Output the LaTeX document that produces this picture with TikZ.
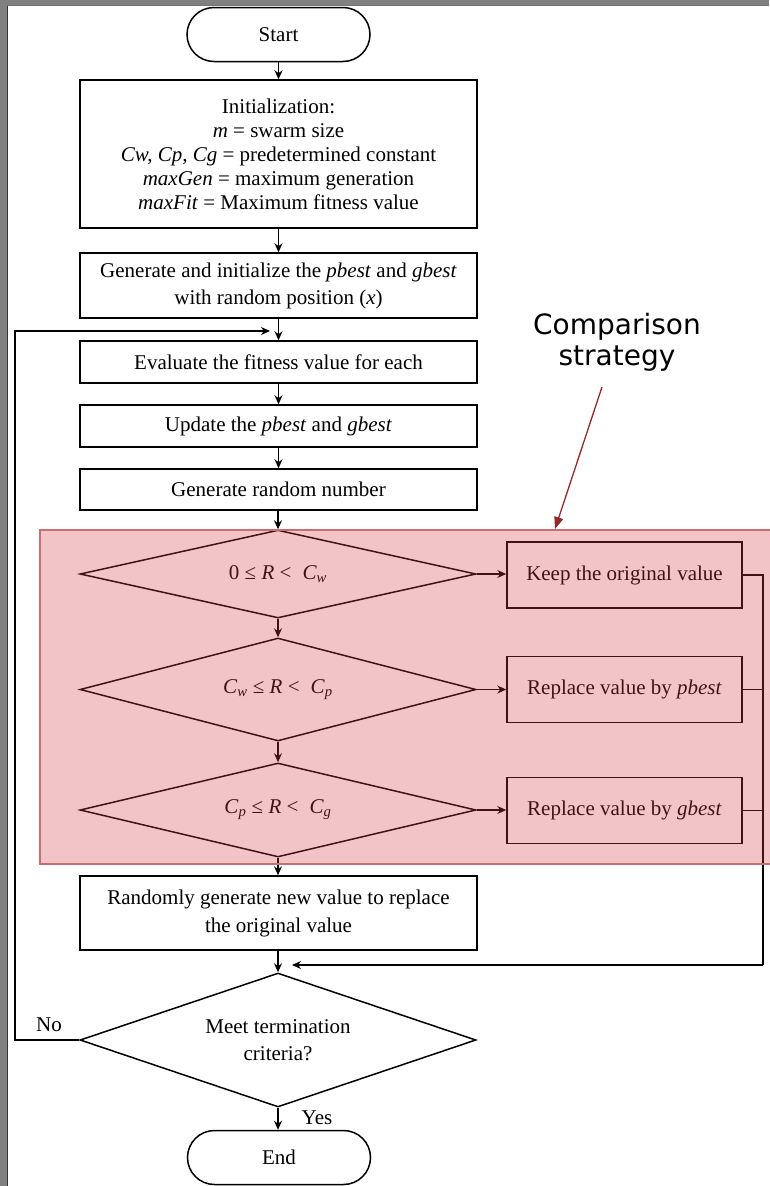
\documentclass[tikz,border=0pt]{standalone}
\usepackage{fontspec}
\setmainfont{Liberation Serif}
\newfontfamily\labelfont{DejaVu Sans}
\usetikzlibrary{shapes.geometric,arrows.meta}
\definecolor{framegray}{RGB}{128,128,128}
\definecolor{zonered}{RGB}{213,60,70}
\definecolor{zoneedge}{RGB}{200,110,110}
\definecolor{pointer}{RGB}{150,40,40}
\newcommand{\var}[2]{\textit{#1}\textsubscript{\textit{#2}}}

\begin{document}
\begin{tikzpicture}[x=1pt,y=-1pt,
  every node/.style={font=\fontsize{21}{24}\selectfont},
  proc/.style={draw, line width=1.5pt, minimum width=397pt, align=center, inner sep=0pt},
  term/.style={draw, line width=1.5pt, rounded corners=27pt, minimum width=183pt, minimum height=54pt},
  test/.style={draw, diamond, line width=1.5pt, minimum width=396pt, inner sep=0pt, align=center},
  side/.style={draw, line width=1.5pt, minimum width=235pt, minimum height=66pt},
  flow/.style={line width=1.3pt, -{Stealth[length=9pt,width=8pt]}},
  link/.style={line width=1.3pt}
]
\useasboundingbox (0,0) rectangle (769,1186);

% page frame
\fill[framegray] (0,0) rectangle (7,1186);
\fill[framegray] (0,0) rectangle (769,5);
\draw[black!80, line width=1.2pt] (7.5,5) -- (7.5,1186);
\draw[black!55, line width=1pt] (7,5.5) -- (769,5.5);

% main column
\node[term] (start) at (278.5,34.5) {Start};
\node[proc, minimum height=148pt] (init) at (278.5,154)
  {Initialization:\\ \textit{m} = swarm size\\ \textit{Cw, Cp, Cg} = predetermined constant\\
   \textit{maxGen} = maximum generation\\ \textit{maxFit} = Maximum fitness value};
\node[proc, minimum height=65pt, font=\fontsize{21}{27}\selectfont] (gen) at (278.5,285.5)
  {Generate and initialize the \textit{pbest} and \textit{gbest}\\ with random position (\textit{x})};
\node[proc, minimum height=42pt] (eval) at (278.5,362) {Evaluate the fitness value for each};
\node[proc, minimum height=42pt] (upd) at (278.5,426) {Update the \textit{pbest} and \textit{gbest}};
\node[proc, minimum height=41pt] (rnd) at (278.5,489.5) {Generate random number};

% comparison tests
\node[test, aspect=4.5, minimum height=88pt] (d1) at (278,574) {0 ≤ \textit{R} <\; \var{C}{w}};
\node[test, aspect=3.85, minimum height=103pt] (d2) at (278,689.5) {\var{C}{w} ≤ \textit{R} <\; \var{C}{p}};
\node[test, aspect=4.2, minimum height=94pt] (d3) at (278,810) {\var{C}{p} ≤ \textit{R} <\; \var{C}{g}};
\node[side] (k1) at (624.5,575) {Keep the original value};
\node[side] (k2) at (624.5,689.5) {Replace value by \textit{pbest}};
\node[side] (k3) at (624.5,810.5) {Replace value by \textit{gbest}};

\node[proc, minimum height=74pt, font=\fontsize{21}{28}\selectfont] (newv) at (278.5,913)
  {Randomly generate new value to replace\\ the original value};
\node[test, aspect=2.95, minimum height=134pt, font=\fontsize{21}{27}\selectfont] (stop) at (278,1040)
  {Meet termination\\ criteria?};
\node[term] (end) at (279,1157.5) {End};

\node (no) at (49,1025) {No};
\node (yes) at (317,1118) {Yes};

% connectors
\draw[flow] (start.south) -- (start.south |- init.north);
\draw[flow] (init) -- (gen);
\draw[flow] (gen) -- (eval);
\draw[flow] (eval) -- (upd);
\draw[flow] (upd) -- (rnd);
\draw[flow] (rnd.south -| d1.north) -- (d1.north);
\draw[flow] (d1) -- (d2);
\draw[flow] (d2) -- (d3);
\draw[flow] (d3.south) -- (d3.south |- newv.north);
\draw[flow] (newv.south -| stop.north) -- (stop.north);
\draw[flow] (stop.south) -- (stop.south |- end.north);

\draw[flow] (d1.east) -- (d1.east -| k1.west);
\draw[flow] (d2.east) -- (d2.east -| k2.west);
\draw[flow] (d3.east) -- (d3.east -| k3.west);

\coordinate (rail) at (763,965);
\coordinate (join) at (292,965);
\draw[link] (k1.east) -| (rail);
\draw[link] (k2.east) -- (k2.east -| rail);
\draw[link] (k3.east) -- (k3.east -| rail);
\draw[flow] (rail) -- (join);

\coordinate (back) at (15,331);
\coordinate (loopin) at (270,331);
\draw[flow] (stop.west) -| (back) -- (loopin);

% highlighted comparison zone
\fill[zonered, opacity=0.3] (40,530) rectangle (772,864);
\draw[zoneedge, line width=1.5pt] (40,530) rectangle (772,864);

\node[font=\labelfont\fontsize{28}{31}\selectfont, align=center] (cmp) at (617,342) {Comparison\\strategy};
\coordinate (cmptail) at (602,387);
\coordinate (cmptip) at (555,529);
\draw[pointer, line width=1.3pt, -{Triangle[length=12pt,width=9pt]}] (cmptail) -- (cmptip);
\end{tikzpicture}
\end{document}
